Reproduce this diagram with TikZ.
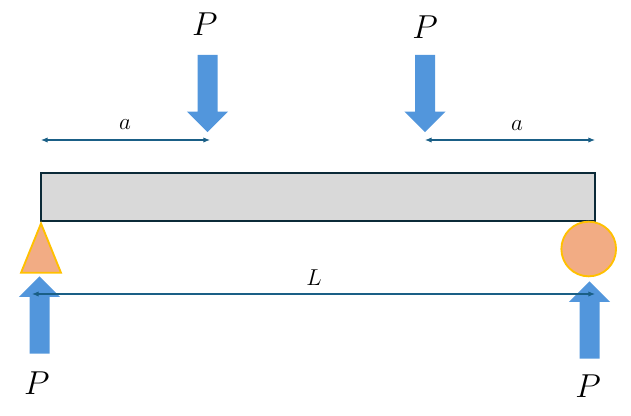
\documentclass[tikz,border=0pt]{standalone}
\usepackage{amsmath}
\usepackage{xcolor}
\usetikzlibrary{arrows.meta,positioning,shapes.geometric,shapes.arrows}

\definecolor{beamfill}{HTML}{D9D9D9}
\definecolor{beamline}{HTML}{0B2A38}
\definecolor{forceblue}{HTML}{5296DC}
\definecolor{dimblue}{HTML}{1A5F86}
\definecolor{supportfill}{HTML}{F2AC84}
\definecolor{supportline}{HTML}{FFC000}

\begin{document}
\begin{tikzpicture}[
    x=0.75pt,
    y=-0.75pt,
    node distance=9pt,
    beam/.style={
      rectangle,
      draw=beamline,
      fill=beamfill,
      line width=1.2pt,
      minimum width=415.5pt,
      minimum height=36pt
    },
    force/.style={
      single arrow,
      fill=forceblue,
      inner sep=7.3pt,
      minimum height=58pt,
      single arrow head extend=7.9pt,
      single arrow head indent=0pt
    },
    pin/.style={
      isosceles triangle,
      isosceles triangle apex angle=44.6,
      isosceles triangle stretches,
      shape border rotate=90,
      draw=supportline,
      fill=supportfill,
      line width=1.4pt,
      inner sep=0pt,
      minimum width=30pt,
      minimum height=37pt
    },
    roller/.style={
      circle,
      draw=supportline,
      fill=supportfill,
      line width=1.4pt,
      inner sep=0pt,
      minimum size=41pt
    },
    dimline/.style={draw=dimblue, {Latex[length=5pt,width=4pt]}-{Latex[length=5pt,width=4pt]}, line width=0.8pt},
    load/.style={font=\fontsize{28}{28}\selectfont, inner sep=0pt},
    dimlabel/.style={font=\fontsize{17}{17}\selectfont, inner sep=0pt}
]

    % Nodes
    \useasboundingbox (0,0) rectangle (631,415);
    \node [beam] (beam) at (318,197) {};
    \node [pin, anchor=apex] (pin) at (41,221) {};
    \node [roller] (roller) at (588.7,249) {};

    % Forces
    \node [force, shape border rotate=270] (forcea) at (207.5,88.5) {};
    \node [force, shape border rotate=270] (forceb) at (425,88.5) {};
    \node [force, shape border rotate=90] (forcec) at (39.5,320) {};
    \node [force, shape border rotate=90] (forced) at (589.5,325) {};
    \node [load, above=14pt of forcea.north, xshift=-2pt] (loada) {$P$};
    \node [load, above=11.6pt of forceb.north] (loadb) {$P$};
    \node [load, below=13pt of forcec.south, xshift=-2pt] (loadc) {$P$};
    \node [load, below=11.6pt of forced.south, xshift=-1pt] (loadd) {$P$};

    % Dimensions
    \coordinate (lefta) at (41,140);
    \coordinate (righta) at (210,140);
    \coordinate (leftb) at (425,140);
    \coordinate (rightb) at (595,140);
    \coordinate (leftl) at (32,294);
    \coordinate (rightl) at (595,294);
    \path [dimline] (lefta) -- (righta);
    \path [dimline] (leftb) -- (rightb);
    \path [dimline] (leftl) -- (rightl);
    \node [dimlabel] (labela) at (125,125) {$a$};
    \node [dimlabel] (labelb) at (517,126) {$a$};
    \node [dimlabel] (labell) at (314,278) {$L$};

\end{tikzpicture}
\end{document}
